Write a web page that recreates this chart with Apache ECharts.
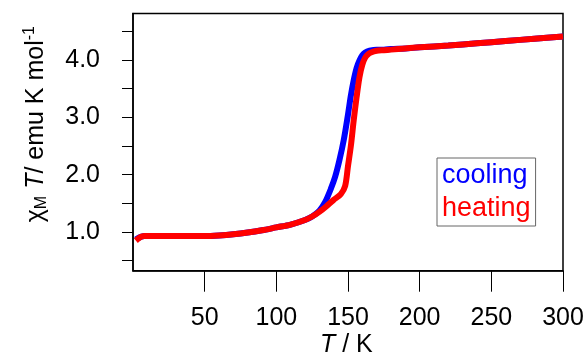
<!DOCTYPE html>
<html>
<head>
<meta charset="utf-8">
<script src="https://cdn.jsdelivr.net/npm/echarts@6/dist/echarts.min.js"></script>
<style>
html,body{margin:0;padding:0;background:#fff;}
#c{width:587px;height:356px;}
</style>
</head>
<body>
<div id="c"></div>
<script>
var heatT = [2,4,6,8,10,15,20,30,40,50,60,70,80,90,100,110,120,125,130,135,140,145,148,150,152,154,156,158,160,162,164,166,170,175,180,190,200,220,240,260,280,300];
var heatV = [0.85,0.89,0.92,0.93,0.93,0.93,0.93,0.93,0.93,0.93,0.94,0.96,0.99,1.03,1.08,1.13,1.21,1.27,1.35,1.45,1.56,1.66,1.80,2.15,2.50,2.95,3.35,3.70,3.92,4.04,4.10,4.13,4.16,4.17,4.18,4.20,4.22,4.25,4.29,4.33,4.37,4.41];
var coolT = [2,4,6,8,10,15,20,30,40,50,60,70,80,90,100,110,120,125,130,134,138,141,144,147,150,152,154,156,158,160,162,165,170,175,180,190,200,220,240,260,280,300];
var coolV = [0.87,0.90,0.92,0.93,0.93,0.93,0.93,0.93,0.93,0.93,0.94,0.96,0.99,1.03,1.08,1.13,1.21,1.27,1.37,1.52,1.75,1.96,2.25,2.60,3.05,3.38,3.65,3.86,3.99,4.08,4.13,4.16,4.18,4.18,4.19,4.20,4.22,4.25,4.29,4.33,4.37,4.41];
var xTicks = [50,100,150,200,250,300];
var yLabels = [1,2,3,4];
var yTicks = [0.5,1,1.5,2,2.5,3,3.5,4,4.5];

function pairs(a,b){return a.map(function(t,i){return [t,b[i]];});}

var chart = echarts.init(document.getElementById('c'));
var font = 'Liberation Sans, Arial, sans-serif';
chart.setOption({
  animation:false,
  grid:{left:133,right:24,top:13.5,bottom:85.3,show:true,borderColor:'#000',borderWidth:1.5,backgroundColor:'transparent'},
  xAxis:{type:'value',min:0,max:300,
    axisLine:{show:true,lineStyle:{color:'#000',width:1.5}},
    axisTick:{show:true,inside:false,length:21,lineStyle:{color:'#000',width:1},customValues:xTicks},
    axisLabel:{show:true,margin:35,color:'#000',fontSize:25,fontFamily:font,customValues:xTicks},
    splitLine:{show:false}},
  yAxis:{type:'value',min:0.325,max:4.81,
    axisLine:{show:true,lineStyle:{color:'#000',width:1.5}},
    axisTick:{show:true,inside:false,length:11,lineStyle:{color:'#000',width:1},customValues:yTicks},
    axisLabel:{show:true,margin:33,color:'#000',fontSize:25,fontFamily:font,customValues:yLabels,formatter:function(v){return v.toFixed(1);}},
    splitLine:{show:false}},
  legend:{show:true,orient:'vertical',left:437,top:158,icon:'none',itemWidth:0,itemHeight:10,itemGap:6,
    padding:[4,5,4,0],borderColor:'#666',borderWidth:1,backgroundColor:'#fff',
    textStyle:{fontSize:27,fontFamily:font},
    data:[{name:'cooling',textStyle:{color:'#0000ff'}},{name:'heating',textStyle:{color:'#ff0000'}}]},
  graphic:[
    {type:'text',left:22,top:26,rotation:Math.PI/2,
      style:{text:'{a|χ}{s|M}{i| T}{a|/ emu K mol}{p|-1}',fill:'#000',
        rich:{a:{fontSize:25,fontFamily:font},s:{fontSize:16,fontFamily:font,verticalAlign:'bottom',padding:[12,0,0,0]},
              i:{fontSize:25,fontFamily:font,fontStyle:'italic'},p:{fontSize:16,fontFamily:font,verticalAlign:'top',padding:[0,0,12,0]}}}},
    {type:'text',left:320,top:333,
      style:{text:'{i|T}{a| / K}',fill:'#000',rich:{i:{fontSize:25,fontFamily:font,fontStyle:'italic'},a:{fontSize:25,fontFamily:font}}}}
  ],
  series:[
    {name:'cooling',type:'line',data:pairs(coolT,coolV),showSymbol:false,smooth:0.3,lineStyle:{color:'#0000ff',width:6},itemStyle:{color:'#0000ff'},z:2},
    {name:'heating',type:'line',data:pairs(heatT,heatV),showSymbol:false,smooth:0.3,lineStyle:{color:'#ff0000',width:6},itemStyle:{color:'#ff0000'},z:3}
  ]
});
</script>
</body>
</html>
